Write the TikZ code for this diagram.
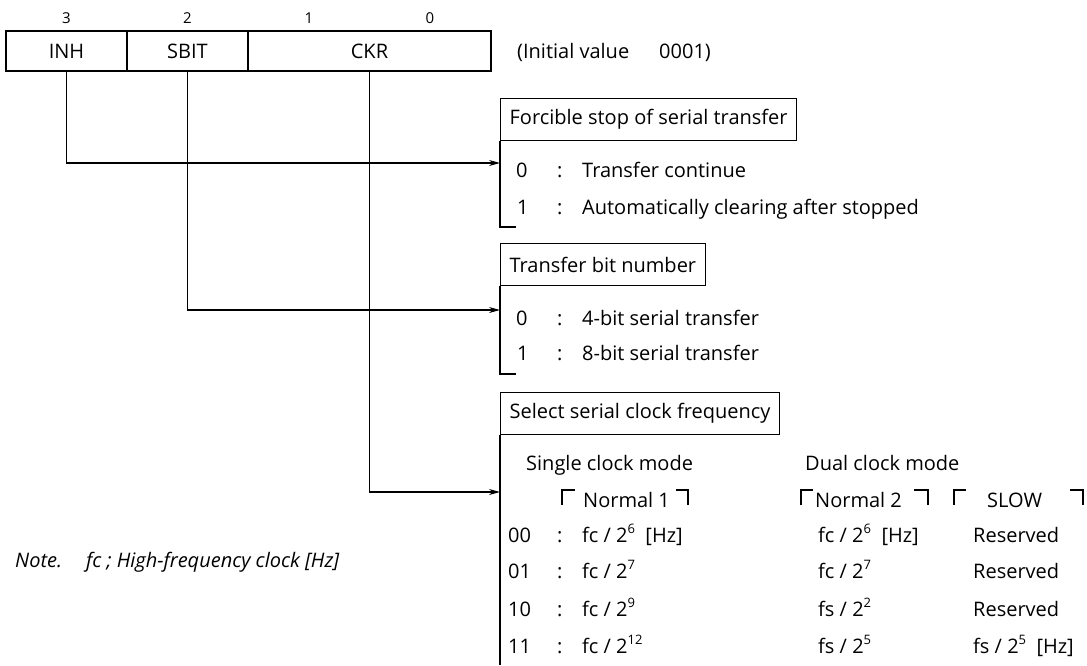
\documentclass[tikz,border=0pt]{standalone}
\usepackage{fontspec}
\setmainfont{Open Sans}
\usetikzlibrary{arrows.meta,positioning}
\tikzset{
  reg/.style={draw, rectangle, line width=1.3pt, minimum height=40pt, inner sep=0pt, outer sep=0pt, font=\fontsize{20}{24}\selectfont},
  hdr/.style={draw, rectangle, line width=1.3pt, anchor=north west, minimum height=42pt, inner xsep=9pt, font=\fontsize{20}{24}\selectfont},
  txt/.style={anchor=base west, inner sep=0pt, font=\fontsize{20}{24}\selectfont},
  bitno/.style={inner sep=0pt, font=\fontsize{15}{18}\selectfont},
  arr/.style={-{Stealth[length=11pt, width=6pt]}, line width=1.1pt},
  ln/.style={line width=1.3pt},
  brk/.style={line width=1.5pt},
}
\newcommand{\expo}[1]{\raisebox{0.42em}{\fontsize{13}{13}\selectfont #1}}

\begin{document}
\begin{tikzpicture}[x=1pt, y=-1pt]
\useasboundingbox (0,0) rectangle (1087,665);

% register
\node[reg, minimum width=121pt] (inh) at (66.5,51) {INH};
\node[reg, minimum width=121pt, right=0pt of inh] (sbit) {SBIT};
\node[reg, minimum width=243pt, right=0pt of sbit] (ckr) {CKR};

\node[bitno] (bthree) at (inh.north |- 0,18) {3};
\node[bitno] (btwo) at (sbit.north |- 0,18) {2};
\node[bitno] (bone) at (309,18) {1};
\node[bitno] (bzero) at (430,18) {0};

\node[txt] (init) at (517,58) {(Initial value\hspace{30pt}0001)};

% field boxes
\node[hdr] (hdA) at (500,98) {Forcible stop of serial transfer};
\node[hdr] (hdB) at (500,243) {Transfer bit number};
\node[hdr] (hdC) at (500,392) {Select serial clock frequency};

\draw[ln] (hdA.south west) |- (516,227);
\draw[ln] (hdB.south west) |- (516,374);
\draw[ln] (hdC.south west) -- (500,665);

\coordinate (inA) at (500,163);
\coordinate (inB) at (500,310);
\coordinate (inC) at (500,492);

\draw[arr] (inh.south) |- (inA);
\draw[arr] (sbit.south) |- (inB);
\draw[arr] (ckr.south) |- (inC);

% INH
\node[txt] (aZero) at (516,177) {0};
\node[txt] (aZc) at (557,177) {:};
\node[txt] (aZt) at (582,177) {Transfer continue};
\node[txt] (aOne) at (517,214) {1};
\node[txt] (aOc) at (557,214) {:};
\node[txt] (aOt) at (582,214) {Automatically clearing after stopped};

% SBIT
\node[txt] (bZero) at (516,325) {0};
\node[txt] (bZc) at (557,325) {:};
\node[txt] (bZt) at (582,325) {4-bit serial transfer};
\node[txt] (bOne) at (517,360) {1};
\node[txt] (bOc) at (557,360) {:};
\node[txt] (bOt) at (582,360) {8-bit serial transfer};

% CKR
\node[txt] (single) at (526,470) {Single clock mode};
\node[txt] (dual) at (805,470) {Dual clock mode};
\node[txt] (nrmA) at (583,507) {Normal 1};
\node[txt] (nrmB) at (815,507) {Normal 2};
\node[txt] (slow) at (987,507) {SLOW};
\draw[brk] (562,505) |- (575,490);
\draw[brk] (676,490) -| (688,505);
\draw[brk] (801,505) |- (813,490);
\draw[brk] (914,490) -| (928,505);
\draw[brk] (954,505) |- (966,490);
\draw[brk] (1070,490) -| (1083,505);

\node[txt] (cA) at (508,542) {00};
\node[txt] (cAc) at (557,542) {:};
\node[txt] (cAs) at (582,542) {fc / 2\expo{6}\ \ [Hz]};
\node[txt] (cAd) at (818,542) {fc / 2\expo{6}\ \ [Hz]};
\node[txt] (cAw) at (973,542) {Reserved};

\node[txt] (cB) at (508,578) {01};
\node[txt] (cBc) at (557,578) {:};
\node[txt] (cBs) at (582,578) {fc / 2\expo{7}};
\node[txt] (cBd) at (818,578) {fc / 2\expo{7}};
\node[txt] (cBw) at (973,578) {Reserved};

\node[txt] (cC) at (508,616) {10};
\node[txt] (cCc) at (557,616) {:};
\node[txt] (cCs) at (582,616) {fc / 2\expo{9}};
\node[txt] (cCd) at (818,616) {fs / 2\expo{2}};
\node[txt] (cCw) at (973,616) {Reserved};

\node[txt] (cD) at (508,653) {11};
\node[txt] (cDc) at (557,653) {:};
\node[txt] (cDs) at (582,653) {fc / 2\expo{12}};
\node[txt] (cDd) at (818,653) {fs / 2\expo{5}};
\node[txt] (cDw) at (973,653) {fs / 2\expo{5}\ \ [Hz]};

\node[txt, font=\fontsize{20}{24}\selectfont\itshape] (note) at (15,567) {Note.\hspace{24pt}fc ; High-frequency clock [Hz]};

\end{tikzpicture}
\end{document}
